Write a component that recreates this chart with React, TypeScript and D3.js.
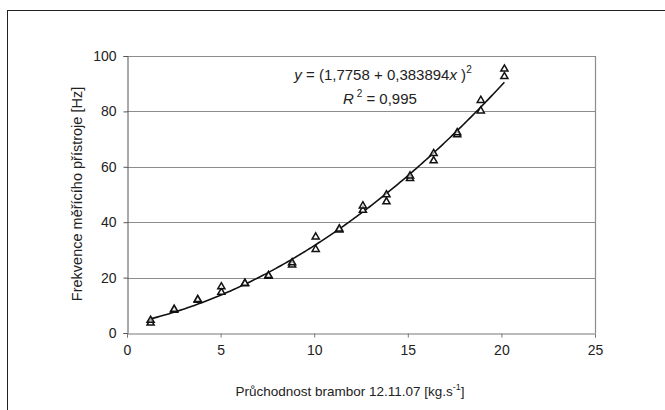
import React, { useEffect, useRef } from 'react';
import * as d3 from 'd3';

// flow rate levels [kg/s]
const flowRates = [1.26, 2.52, 3.78, 5.04, 6.3, 7.56, 8.82, 10.08, 11.34, 12.6, 13.86, 15.12, 16.38, 17.64, 18.9, 20.16];
// two measurement runs of device frequency [Hz]
const runA = [3.6, 8.2, 11.8, 14.7, 17.8, 20.5, 24.6, 30.2, 37.2, 44.3, 47.4, 55.8, 62.2, 71.6, 80.2, 92.6];
const runB = [4.6, 8.6, 12.1, 16.7, 18.0, 20.8, 25.4, 34.7, 37.6, 45.9, 49.9, 56.7, 64.8, 72.3, 84.0, 95.3];

// trendline y = (a + b x)^2 as printed on the chart
const fitA = 1.7758;
const fitB = 0.383894;

const xTicks = [0, 5, 10, 15, 20, 25];
const yTicks = [0, 20, 40, 60, 80, 100];

const W = 665;
const H = 410;

export default function App() {
  const svgRef = useRef<SVGSVGElement>(null);

  useEffect(() => {
    const svg = d3.select(svgRef.current);
    svg.selectAll('*').remove();

    const margin = { top: 56, right: 70, bottom: 77, left: 127 };
    const font = 'Liberation Sans, Arial, sans-serif';

    const x = d3.scaleLinear().domain([0, 25]).range([margin.left, W - margin.right]);
    const y = d3.scaleLinear().domain([0, 100]).range([H - margin.bottom, margin.top]);

    // outer frame (runs off the right and bottom edges)
    svg.append('rect')
      .attr('x', 7.5).attr('y', 10.5)
      .attr('width', W).attr('height', H)
      .attr('fill', 'none').attr('stroke', '#222');

    // grid lines
    svg.append('g')
      .selectAll('line')
      .data(yTicks.slice(1))
      .enter()
      .append('line')
      .attr('x1', x(0)).attr('x2', x(25))
      .attr('y1', d => Math.round(y(d)) + 0.5).attr('y2', d => Math.round(y(d)) + 0.5)
      .attr('stroke', '#8c8c8c').attr('stroke-width', 1.2);

    // right border of plot area
    svg.append('line')
      .attr('x1', Math.round(x(25)) + 0.5).attr('x2', Math.round(x(25)) + 0.5)
      .attr('y1', y(100)).attr('y2', y(0))
      .attr('stroke', '#8c8c8c').attr('stroke-width', 1.2);

    const yAxis = d3.axisLeft(y).tickValues(yTicks).tickSize(4).tickPadding(7).tickFormat(d => String(d));
    const gy = svg.append('g')
      .attr('transform', `translate(${Math.round(x(0)) + 0.5},0)`)
      .call(yAxis);
    gy.select('.domain').attr('stroke', '#555');
    gy.selectAll('.tick line').attr('stroke', '#555');
    gy.selectAll('.tick text').attr('font-family', font).attr('font-size', 14).attr('fill', '#222');

    const xAxis = d3.axisBottom(x).tickValues(xTicks).tickSize(4).tickPadding(8).tickFormat(d => String(d));
    const gx = svg.append('g')
      .attr('transform', `translate(0,${Math.round(y(0)) + 0.5})`)
      .call(xAxis);
    gx.select('.domain').attr('stroke', '#777');
    gx.selectAll('.tick line').attr('stroke', '#777');
    gx.selectAll('.tick text').attr('font-family', font).attr('font-size', 14).attr('fill', '#222');

    // fitted curve
    const xs = d3.range(d3.min(flowRates)!, d3.max(flowRates)! + 0.001, 0.1);
    const line = d3.line<number>()
      .x(d => x(d))
      .y(d => y((fitA + fitB * d) ** 2));
    svg.append('path')
      .datum(xs)
      .attr('fill', 'none')
      .attr('stroke', '#111')
      .attr('stroke-width', 1.6)
      .attr('d', line);

    // data points
    const tri = d3.symbol().type(d3.symbolTriangle).size(22);
    [runA, runB].forEach((run, k) => {
      svg.append('g')
        .selectAll('path')
        .data(run.map((v, i) => ({ x: flowRates[i], y: v })))
        .enter()
        .append('path')
        .attr('d', tri)
        .attr('transform', d => `translate(${x(d.x)},${y(d.y)})`)
        .attr('fill', 'white')
        .attr('fill-opacity', k === 0 ? 1 : 0.6)
        .attr('stroke', '#111')
        .attr('stroke-width', 1.5);
    });

    // equation text
    const eq = svg.append('text')
      .attr('x', 383).attr('y', 80)
      .attr('text-anchor', 'middle')
      .attr('font-family', font).attr('font-size', 15).attr('fill', '#222');
    eq.append('tspan').attr('font-style', 'italic').text('y');
    eq.append('tspan').text(' = (1,7758 + 0,383894');
    eq.append('tspan').attr('font-style', 'italic').text('x');
    eq.append('tspan').text(' )');
    eq.append('tspan').attr('dy', -7).attr('font-size', 10).text('2');

    const r2 = svg.append('text')
      .attr('x', 380).attr('y', 104)
      .attr('text-anchor', 'middle')
      .attr('font-family', font).attr('font-size', 15).attr('fill', '#222');
    r2.append('tspan').attr('font-style', 'italic').text('R');
    r2.append('tspan').attr('dy', -7).attr('font-size', 10).text(' 2');
    r2.append('tspan').attr('dy', 7).text(' = 0,995');

    // axis titles
    const xt = svg.append('text')
      .attr('x', 350).attr('y', 396)
      .attr('text-anchor', 'middle')
      .attr('font-family', font).attr('font-size', 13.5).attr('fill', '#222');
    xt.append('tspan').text('Průchodnost brambor 12.11.07 [kg.s');
    xt.append('tspan').attr('dy', -6).attr('font-size', 9).text('-1');
    xt.append('tspan').attr('dy', 6).text(']');

    svg.append('text')
      .attr('transform', `translate(82,194) rotate(-90)`)
      .attr('text-anchor', 'middle')
      .attr('font-family', font).attr('font-size', 14.5).attr('fill', '#222')
      .text('Frekvence měřícího přístroje [Hz]');
  }, []);

  return (
    <svg
      ref={svgRef}
      width={W}
      height={H}
      style={{ position: 'absolute', left: 0, top: 0, background: 'white', display: 'block' }}
    />
  );
}
